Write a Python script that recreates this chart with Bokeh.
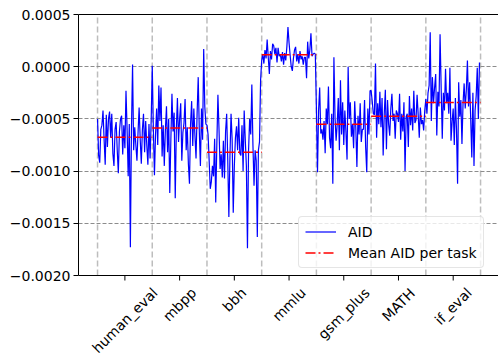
import math
import numpy as np
from bokeh.plotting import figure
from bokeh.models import (Range1d, FixedTicker, CustomJSTickFormatter,
                          Legend, LegendItem, ColumnDataSource)
from bokeh.core.properties import value
from bokeh.embed import file_html
from bokeh.resources import INLINE

# ---------------- data ----------------
tasks = ["human_eval", "mbpp", "bbh", "mmlu", "gsm_plus", "MATH", "if_eval"]

aid_human_eval = [-5.0e-4, -8.5e-4, -9.2e-4, -6.0e-4, -5.6e-4, -4.2e-4, -7.0e-4, -9.4e-4, -4.6e-4, -7.7e-4,
                  -5.0e-4, -4.3e-4, -6.8e-4, -4.5e-4, -8.3e-4, -9.5e-4, -6.0e-4, -5.3e-4, -8.0e-4, -10.2e-4,
                  -6.2e-4, -5.0e-4, -4.7e-4, -8.4e-4, -5.6e-4, -7.8e-4, -2.3e-4, -6.0e-4, -10.5e-4, -5.5e-4,
                  -17.3e-4, -6.0e-4, 0.2e-4, -8.0e-4, -5.8e-4, -7.5e-4, -9.0e-4, -6.3e-4, -3.9e-4, -7.0e-4,
                  -9.3e-4, -6.0e-4, -4.5e-4, -8.2e-4, -5.2e-4, -7.5e-4, -9.4e-4, -5.5e-4, -8.8e-4, -5.2e-4]

aid_mbpp = [0.1e-4, -6.0e-4, -10.4e-4, -6.5e-4, -4.0e-4, -7.5e-4, -1.8e-4, -5.2e-4, -2.0e-4, -8.6e-4,
            -5.6e-4, -9.5e-4, -6.0e-4, -3.8e-4, -8.2e-4, -5.0e-4, -12.1e-4, -7.0e-4, -2.6e-4, -6.2e-4,
            -4.4e-4, -12.6e-4, -6.0e-4, -3.0e-4, -7.2e-4, -5.0e-4, -3.5e-4, -9.0e-4, -6.3e-4, -5.4e-4,
            -3.1e-4, -8.0e-4, -5.8e-4, -9.3e-4, -11.2e-4, -5.5e-4, -3.3e-4, -7.6e-4, -4.0e-4, -6.6e-4,
            -8.8e-4, -4.4e-4, -1.0e-4, -6.2e-4, -9.5e-4, -4.0e-4, -7.0e-4, 1.7e-4, -3.8e-4, -5.5e-4]

aid_bbh = [-5.6e-4, -6.5e-4, -9.0e-4, -11.7e-4, -11.0e-4, -9.5e-4, -10.5e-4, -6.9e-4, -13.0e-4, -7.5e-4,
           -2.7e-4, -6.0e-4, -9.8e-4, -8.4e-4, -10.6e-4, -7.1e-4, -10.7e-4, -6.2e-4, -4.5e-4, -9.0e-4,
           -14.4e-4, -8.5e-4, -4.5e-4, -7.0e-4, -14.0e-4, -9.5e-4, -6.8e-4, -5.7e-4, -8.0e-4, -4.9e-4,
           -8.3e-4, -8.5e-4, -5.6e-4, -10.0e-4, -4.2e-4, -7.0e-4, -9.5e-4, -17.4e-4, -8.0e-4, -5.0e-4,
           -6.5e-4, -1.7e-4, -7.5e-4, -11.4e-4, -8.0e-4, -9.0e-4, -16.3e-4, -8.0e-4, -7.2e-4, -1.3e-4]

aid_mmlu = [0.6e-4, 1.2e-4, 0.3e-4, 1.6e-4, 0.8e-4, 2.6e-4, 0.9e-4, -0.7e-4, 1.5e-4, 0.7e-4,
            2.2e-4, 2.0e-4, 1.2e-4, 1.8e-4, 0.4e-4, 1.8e-4, 1.0e-4, 1.2e-4, 0.5e-4, 1.4e-4,
            0.2e-4, 1.3e-4, 0.6e-4, 1.9e-4, 3.8e-4, 2.3e-4, 1.1e-4, 0.0e-4, -0.4e-4, 0.8e-4,
            1.6e-4, 1.9e-4, 0.5e-4, 1.2e-4, 0.3e-4, 1.5e-4, 0.7e-4, 1.0e-4, 0.2e-4, 0.9e-4,
            0.9e-4, -1.1e-4, 2.4e-4, 0.8e-4, 1.6e-4, 3.2e-4, 1.0e-4, 1.2e-4, 1.3e-4, 1.2e-4]

aid_gsm_plus = [-4.0e-4, -10.1e-4, -4.2e-4, -2.0e-4, -6.4e-4, -6.0e-4, -7.0e-4, -5.2e-4, -8.3e-4, -4.0e-4,
                -5.5e-4, -1.9e-4, -6.8e-4, -7.8e-4, -4.5e-4, -11.2e-4, 0.9e-4, -4.8e-4, -7.1e-4, -5.5e-4,
                -3.0e-4, -8.0e-4, -1.3e-4, -6.5e-4, -3.4e-4, -7.5e-4, -4.2e-4, -6.3e-4, -8.9e-4, 0.0e-4,
                -5.0e-4, -3.4e-4, -6.7e-4, -5.5e-4, -7.8e-4, -3.3e-4, -5.9e-4, -9.6e-4, -4.7e-4, -6.5e-4,
                -3.5e-4, -7.2e-4, -6.0e-4, -6.0e-4, -3.2e-4, -7.7e-4, -10.1e-4, -4.0e-4, -6.5e-4, -2.3e-4]

aid_math = [-2.3e-4, -3.3e-4, -4.5e-4, -4.6e-4, 0.3e-4, -6.8e-4, -3.5e-4, -5.5e-4, -2.4e-4, -5.8e-4,
            -3.0e-4, -8.5e-4, -4.5e-4, -2.2e-4, -7.9e-4, -3.2e-4, -5.5e-4, -6.6e-4, -4.0e-4, -2.6e-4,
            -5.2e-4, -4.5e-4, -6.9e-4, -4.2e-4, -4.5e-4, -5.3e-4, -2.6e-4, -7.0e-4, -4.5e-4, -6.2e-4,
            -3.4e-4, -10.0e-4, -4.8e-4, -4.5e-4, -7.7e-4, -2.8e-4, -5.6e-4, -4.0e-4, -6.1e-4, -2.3e-4,
            -5.4e-4, -5.1e-4, -2.7e-4, -4.6e-4, -6.8e-4, -3.9e-4, -5.5e-4, -5.1e-4, -6.1e-4, -4.2e-4]

aid_if_eval = [-3.1e-4, -4.5e-4, -2.5e-4, -1.8e-4, 3.3e-4, -5.2e-4, -1.0e-4, -3.5e-4, -2.0e-4, -0.7e-4,
               -6.6e-4, -2.4e-4, -3.8e-4, 3.1e-4, -2.0e-4, -6.9e-4, -2.5e-4, -4.2e-4, -0.2e-4, -3.5e-4,
               -2.5e-4, -4.5e-4, -0.1e-4, -7.1e-4, -5.3e-4, -4.0e-4, -7.5e-4, -3.0e-4, -6.0e-4, -11.2e-4,
               -1.5e-4, -4.8e-4, -3.2e-4, -7.4e-4, -3.5e-4, -1.6e-4, -4.0e-4, -2.2e-4, 0.6e-4, -3.8e-4,
               -1.5e-4, -5.0e-4, -8.7e-4, -2.5e-4, -9.5e-4, -4.2e-4, -2.8e-4, -0.1e-4, -5.0e-4, 0.4e-4]

y_ticks = [0.0005, 0.0, -0.0005, -0.0010, -0.0015, -0.0020]

series = [aid_human_eval, aid_mbpp, aid_bbh, aid_mmlu, aid_gsm_plus, aid_math, aid_if_eval]

# ---------------- derived ----------------
counts = [len(s) for s in series]
starts = np.cumsum([0] + counts[:-1]).astype(float)
ends = starts + np.array(counts, dtype=float)
centers = (starts + ends) / 2.0
boundaries = list(starts) + [float(ends[-1])]
means = [float(np.mean(s)) for s in series]
aid = np.concatenate([np.array(s, dtype=float) for s in series])
idx = np.arange(len(aid))

# ---------------- geometry ----------------
W, H = 498, 353
AX_LEFT, AX_TOP, AX_BOTTOM = 78, 14, 275      # axes box in page pixels
Y0, Y1 = min(y_ticks), max(y_ticks)
X0, X1 = -17.4, 366.4
px_per_y = (AX_BOTTOM - AX_TOP) / (Y1 - Y0)
FRAME_TOP = AX_TOP - 1
y_hi = Y1 + (AX_TOP - FRAME_TOP) / px_per_y
y_lo = Y1 - (H - AX_TOP) / px_per_y        # frame reaches the page bottom

p = figure(width=W, height=H, output_backend="svg", toolbar_location=None,
           x_range=Range1d(X0, X1), y_range=Range1d(y_lo, y_hi),
           min_border_left=AX_LEFT, min_border_right=0,
           min_border_top=FRAME_TOP, min_border_bottom=0)
p.background_fill_color = "white"
p.border_fill_color = "white"
p.outline_line_color = None
p.xaxis.visible = False

# y axis
ya = p.yaxis[0]
ya.bounds = (Y0, Y1)
ya.ticker = FixedTicker(ticks=y_ticks)
ya.formatter = CustomJSTickFormatter(code="return tick.toFixed(4).replace('-', '\u2212');")
ya.axis_line_color = "black"
ya.axis_line_width = 1
ya.major_tick_line_color = "black"
ya.major_tick_out = 5
ya.major_tick_in = 0
ya.minor_tick_line_color = None
ya.major_label_text_font = "DejaVu Sans"
ya.major_label_text_font_size = "14px"
ya.major_label_text_color = "black"
ya.major_label_standoff = 3

# grids
p.xgrid.visible = False
p.ygrid.ticker = FixedTicker(ticks=y_ticks)
p.ygrid.grid_line_color = "#8c8c8c"
p.ygrid.grid_line_width = 1
p.ygrid.grid_line_dash = "4 2"
p.ygrid.bounds = (X0, X1)

# task boundary lines (vertical dashed)
p.segment(x0=boundaries, x1=boundaries, y0=[Y0] * len(boundaries), y1=[Y1] * len(boundaries),
          line_color="#bdbdbd", line_width=1.5, line_dash="6 3", level="underlay")

# spines (bottom, top)
p.segment(x0=[X0, X0], x1=[X1, X1], y0=[Y0, Y1], y1=[Y0, Y1], line_color="black", line_width=1)

# x tick marks under the axis
p.segment(x0=list(centers), x1=list(centers), y0=[Y0] * len(centers),
          y1=[Y0 - 5.0 / px_per_y] * len(centers), line_color="black", line_width=1)

# data
src = ColumnDataSource(dict(x=idx, y=aid))
r_aid = p.line("x", "y", source=src, line_color="blue", line_width=1.2)
msrc = ColumnDataSource(dict(x0=starts, x1=ends, y=means))
r_mean = p.segment(x0="x0", y0="y", x1="x1", y1="y", source=msrc,
                   line_color="red", line_width=1.5, line_dash="10 3 2 3")

# rotated category labels, centered under their ticks
ADV = {'a': 1255, 'b': 1300, 'e': 1260, 'f': 721, 'g': 1300, 'h': 1298, 'i': 569,
       'l': 569, 'm': 1995, 'n': 1298, 'p': 1300, 's': 1067, 'u': 1298, 'v': 1212,
       '_': 1024, 'M': 1767, 'A': 1401, 'T': 1251, 'H': 1540}
FS = 14.0
text_h = FS * 1.164
lab_y = []
for name in tasks:
    w = sum(ADV.get(c, 1250) for c in name) / 2048.0 * FS
    half = (w + text_h) / (2.0 * math.sqrt(2.0))
    lab_y.append(Y0 - (9.0 + half) / px_per_y)
lsrc = ColumnDataSource(dict(x=list(centers), y=lab_y, t=tasks))
p.text(x="x", y="y", text="t", source=lsrc, angle=45, angle_units="deg",
       text_align="center", text_baseline="middle", text_font=value("DejaVu Sans"),
       text_font_size="14px", text_color="black")

# legend
legend = Legend(items=[LegendItem(label="AID", renderers=[r_aid]),
                       LegendItem(label="Mean AID per task", renderers=[r_mean])],
                location=(220, 7 + (H - AX_BOTTOM)))
legend.label_text_font = "DejaVu Sans"
legend.label_text_font_size = "14px"
legend.label_text_color = "black"
legend.glyph_width = 31
legend.glyph_height = 17
legend.label_height = 17
legend.label_standoff = 12
legend.spacing = 4
legend.padding = 6
legend.margin = 0
legend.border_line_color = "#cccccc"
legend.border_line_width = 1
legend.background_fill_color = "white"
legend.background_fill_alpha = 0.8
try:
    legend.border_radius = 4
except Exception:
    pass
p.add_layout(legend)

open("out.html", "w").write(file_html(p, INLINE))
